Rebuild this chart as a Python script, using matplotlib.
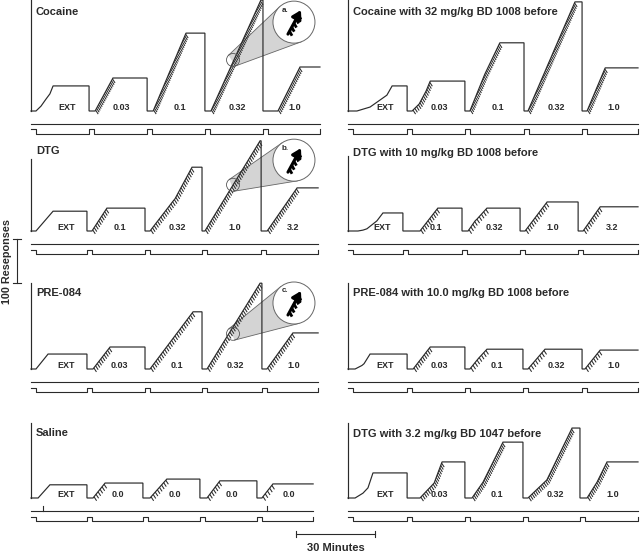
import numpy as np
import matplotlib

matplotlib.use("Agg")
import matplotlib.pyplot as plt
from matplotlib.collections import LineCollection
from matplotlib.patches import Ellipse, Polygon

plt.rcParams["font.family"] = ["Liberation Sans", "DejaVu Sans"]

# recorder scale: 30 min and 100 responses bars
PX_PER_MIN = 2.627
PX_PER_RESP = 0.44
INK = "#2a2a2a"

DOSES_COC = ["EXT", "0.03", "0.1", "0.32", "1.0"]
DOSES_DTG = ["EXT", "0.1", "0.32", "1.0", "3.2"]
DOSES_SAL = ["EXT", "0.0", "0.0", "0.0", "0.0"]

# component boundaries (min from session start)
COC_BOUNDS = [0, 22.1, 44.2, 66.2, 88.3, 110.0]
COC_BD_BOUNDS = [0, 22.5, 44.5, 67.0, 89.1, 110.4]
DTG_BOUNDS = [0, 21.3, 43.4, 65.1, 87.6, 109.3]
DTG_BD_BOUNDS = [0, 20.9, 43.4, 65.5, 87.6, 110.4]
PRE_BOUNDS = [0, 21.3, 43.4, 65.1, 87.9, 109.3]
PRE_BD_BOUNDS = [0, 22.5, 44.5, 66.6, 89.1, 110.4]
SAL_BOUNDS = [0, 21.3, 42.6, 64.3, 86.0, 107.4]
DTG_1047_BOUNDS = [0, 22.5, 44.5, 66.6, 88.3, 110.4]

# cumulative responses within each component: (min from component start, responses)
COC_RAMPS = [
    [(1.9, 0), (3.8, 11), (5.7, 27), (7.2, 39), (8.4, 57)],
    [(2.3, 0), (9.1, 75)],
    [(2.3, 0), (14.8, 177)],
    [(2.3, 0), (21.3, 252)],
    [(5.7, 0), (14.1, 100)],
]
COC_BD_RAMPS = [
    [(3.4, 0), (8.4, 9), (12.2, 25), (14.8, 36), (16.8, 57)],
    [(1.9, 0), (4.6, 16), (7.2, 45), (8.8, 68)],
    [(1.9, 0), (7.6, 84), (13.3, 155)],
    [(1.5, 0), (19.4, 248)],
    [(1.9, 0), (8.8, 98)],
]
DTG_RAMPS = [
    [(1.9, 0), (8.4, 45)],
    [(1.9, 0), (7.6, 52)],
    [(1.9, 0), (10.7, 68), (11.4, 73), (17.9, 145)],
    [(1.1, 0), (22.1, 205)],
    [(2.3, 0), (13.7, 98)],
]
DTG_BD_RAMPS = [
    [(3.8, 0), (5.7, 2), (7.2, 5), (9.1, 14), (11.0, 23), (13.3, 41)],
    [(6.5, 0), (13.3, 52)],
    [(2.3, 0), (5.0, 23), (5.7, 27), (9.5, 52)],
    [(1.9, 0), (10.3, 66)],
    [(1.9, 0), (8.4, 55)],
]
PRE_RAMPS = [
    [(1.9, 0), (6.5, 34)],
    [(2.3, 0), (8.8, 50)],
    [(1.9, 0), (18.3, 130)],
    [(1.9, 0), (22.1, 195)],
    [(1.9, 0), (11.8, 82)],
]
PRE_BD_RAMPS = [
    [(2.7, 0), (5.3, 8), (6.1, 12), (8.4, 34)],
    [(2.3, 0), (8.8, 50)],
    [(1.9, 0), (4.6, 20), (5.3, 25), (8.4, 45)],
    [(1.9, 0), (8.4, 45)],
    [(1.1, 0), (6.9, 43)],
]
SAL_RAMPS = [
    [(2.7, 0), (7.2, 30)],
    [(2.3, 0), (6.9, 34)],
    [(2.7, 0), (9.1, 43)],
    [(2.7, 0), (7.6, 39)],
    [(1.9, 0), (6.1, 32)],
]
DTG_1047_RAMPS = [
    [(2.7, 0), (5.7, 11), (7.6, 23), (9.5, 57)],
    [(4.9, 0), (10.3, 34), (13.3, 82)],
    [(2.7, 0), (6.9, 36), (14.5, 127)],
    [(1.9, 0), (9.1, 41), (18.7, 159)],
    [(2.7, 0), (6.5, 36), (10.3, 82)],
]

# reinforcer pips on each ramp
COC_PIPS = [0, 18, 40, 58, 22]
COC_BD_PIPS = [0, 14, 33, 55, 21]
DTG_PIPS = [0, 10, 28, 40, 20]
DTG_BD_PIPS = [0, 10, 9, 12, 10]
PRE_PIPS = [0, 10, 25, 36, 16]
PRE_BD_PIPS = [0, 10, 8, 8, 8]
SAL_PIPS = [0, 6, 8, 7, 5]
DTG_1047_PIPS = [0, 17, 28, 36, 17]

SAL_EVENT_MARKS = [4.6, 89.8]

TITLES = [
    "Cocaine", "Cocaine with 32 mg/kg BD 1008 before",
    "DTG", "DTG with 10 mg/kg BD 1008 before",
    "PRE-084", "PRE-084 with 10.0 mg/kg BD 1008 before",
    "Saline", "DTG with 3.2 mg/kg BD 1047 before",
]

ROW_BASE_PX = [111, 231, 369, 498]
COL_X0_PX = [31, 348]
AXIS_TOP_PX = [111, 111, 72, 75, 86, 86, 75, 75]
TITLE_Y_PX = [99, 99, 80, 78, 76, 76, 65, 64]

# magnifier: ring on the ramp (min, resp), big circle centre (min, resp)
ZOOMS = {
    0: ((76.9, 116), (100.1, 202), "a."),
    2: ((76.9, 105), (100.1, 161), "b."),
    4: ((76.9, 80), (100.1, 150), "c."),
}

TIMEOUT_MIN = 2.0
EVENT_OFF_PX = 13
PULSE_OFF_PX = 23
PULSE_H_PX = 4.5


def px(x, y):
    return x / PX_PER_MIN, y / PX_PER_RESP


def draw_record(ax, bounds, ramps, pips, labels):
    xs, ys = [0.0], [0.0]
    for i, pts in enumerate(ramps):
        t0, t1 = bounds[i], bounds[i + 1]
        if i > 0:
            xs += [t0, t0]
            ys += [ys[-1], 0.0]
        for t, r in pts:
            xs.append(t0 + t)
            ys.append(r)
        xs.append(t1)
        ys.append(ys[-1])
        frac = 0.62 if i == 0 else 0.56
        ax.text(t0 + frac * (t1 - t0), 0.8 / PX_PER_RESP, labels[i], ha="center", va="baseline",
                fontsize=6.5, fontweight="bold", color=INK)
        if pips[i]:
            _draw_pips(ax, t0, pts, pips[i])
    ax.plot(xs, ys, color=INK, lw=0.85, clip_on=False, solid_joinstyle="miter")


def _draw_pips(ax, t0, pts, n):
    px_x = np.array([(t0 + t) * PX_PER_MIN for t, _ in pts])
    px_y = np.array([r * PX_PER_RESP for _, r in pts])
    cum = np.concatenate([[0], np.cumsum(np.hypot(np.diff(px_x), np.diff(px_y)))])
    s = cum[-1] * (np.arange(n) + 0.5) / n
    x = np.interp(s, cum, px_x)
    y = np.interp(s, cum, px_y)
    segs = [[px(a, b), px(a + 2.6, b - 4.0)] for a, b in zip(x, y)]
    ax.add_collection(LineCollection(segs, colors=INK, linewidths=0.75, clip_on=False))


def draw_event_pens(ax, bounds, marks=()):
    end = bounds[-1]
    ev = -EVENT_OFF_PX / PX_PER_RESP
    ax.plot([0, end], [ev, ev], color=INK, lw=0.8, clip_on=False)
    for m in marks:
        ax.plot([m, m], [ev, ev + 5 / PX_PER_RESP], color=INK, lw=0.8, clip_on=False)
    lo = -PULSE_OFF_PX / PX_PER_RESP
    hi = (-PULSE_OFF_PX + PULSE_H_PX) / PX_PER_RESP
    xs, ys = [0, TIMEOUT_MIN, TIMEOUT_MIN], [hi, hi, lo]
    for b in bounds[1:-1]:
        xs += [b, b, b + TIMEOUT_MIN, b + TIMEOUT_MIN]
        ys += [lo, hi, hi, lo]
    xs += [end, end]
    ys += [lo, hi]
    ax.plot(xs, ys, color=INK, lw=0.8, clip_on=False)


def draw_magnifier(ax, at, centre, tag):
    r1, r2 = 6.5, 21.0
    s = np.array([at[0] * PX_PER_MIN, at[1] * PX_PER_RESP])
    b = np.array([centre[0] * PX_PER_MIN, centre[1] * PX_PER_RESP])
    d = np.hypot(*(b - s))
    ang = np.arctan2(*(b - s)[::-1])
    off = np.arccos((r1 - r2) / d)
    corners = []
    for phi in (ang + off, ang - off):
        u = np.array([np.cos(phi), np.sin(phi)])
        corners.append((s + r1 * u, b + r2 * u))
    poly = [px(*corners[0][0]), px(*corners[0][1]), px(*corners[1][1]), px(*corners[1][0])]
    ax.add_patch(Polygon(poly, closed=True, facecolor="#d4d4d4", edgecolor="none", zorder=0.5, clip_on=False))
    for p, q in corners:
        ax.plot(*zip(px(*p), px(*q)), color="#666666", lw=0.6, zorder=0.6, clip_on=False)
    ax.add_patch(Ellipse(px(*s), 2 * r1 / PX_PER_MIN, 2 * r1 / PX_PER_RESP, facecolor="none",
                         edgecolor="#555555", lw=0.6, zorder=3, clip_on=False))
    ax.add_patch(Ellipse(px(*b), 2 * r2 / PX_PER_MIN, 2 * r2 / PX_PER_RESP, facecolor="white",
                         edgecolor="#666666", lw=0.7, zorder=3, clip_on=False))
    # enlarged piece of the record inside the circle
    p0 = b + np.array([-6.0, -12.0])
    p1 = b + np.array([7.0, 12.0])
    ax.annotate("", xy=px(*p1), xytext=px(*p0), zorder=4,
                arrowprops=dict(arrowstyle="-|>,head_length=0.5,head_width=0.3", color="black", lw=2.2,
                                shrinkA=0, shrinkB=0), annotation_clip=False)
    for k in range(5):
        f = 0.12 + 0.17 * k
        q = p0 + f * (p1 - p0)
        ax.plot(*zip(px(*q), px(*(q + np.array([2.5, -4.5])))), color="black", lw=2.0,
                solid_capstyle="butt", zorder=4, clip_on=False)
    ax.text(*px(*(b + np.array([-9.0, 12.0]))), tag, fontsize=5.8, fontweight="bold", ha="center",
            va="center", color=INK, zorder=5)


PANELS = [
    (COC_BOUNDS, COC_RAMPS, COC_PIPS, DOSES_COC),
    (COC_BD_BOUNDS, COC_BD_RAMPS, COC_BD_PIPS, DOSES_COC),
    (DTG_BOUNDS, DTG_RAMPS, DTG_PIPS, DOSES_DTG),
    (DTG_BD_BOUNDS, DTG_BD_RAMPS, DTG_BD_PIPS, DOSES_DTG),
    (PRE_BOUNDS, PRE_RAMPS, PRE_PIPS, DOSES_COC),
    (PRE_BD_BOUNDS, PRE_BD_RAMPS, PRE_BD_PIPS, DOSES_COC),
    (SAL_BOUNDS, SAL_RAMPS, SAL_PIPS, DOSES_SAL),
    (DTG_1047_BOUNDS, DTG_1047_RAMPS, DTG_1047_PIPS, DOSES_COC),
]

fig = plt.figure(figsize=(6.4, 5.52), dpi=100)
axes = []
for idx, (bounds, ramps, pips, labels) in enumerate(PANELS):
    row, col = divmod(idx, 2)
    base = ROW_BASE_PX[row]
    top, bot = base - 115, base + 45
    ax = fig.add_axes([COL_X0_PX[col] / 640, 1 - bot / 552, 292 / 640, (bot - top) / 552])
    ax.set_xlim(0, 292 / PX_PER_MIN)
    ax.set_ylim(-45 / PX_PER_RESP, 115 / PX_PER_RESP)
    ax.axis("off")
    axes.append(ax)

    ax.plot([0, 0], [0, AXIS_TOP_PX[idx] / PX_PER_RESP], color=INK, lw=0.85, clip_on=False)
    draw_record(ax, bounds, ramps, pips, labels)
    draw_event_pens(ax, bounds, SAL_EVENT_MARKS if idx == 6 else ())
    ax.text(*px(5, TITLE_Y_PX[idx]), TITLES[idx], fontsize=8, fontweight="bold", ha="left",
            va="center", color=INK)
    if idx in ZOOMS:
        draw_magnifier(ax, *ZOOMS[idx])

# 100 responses bar, drawn in PRE-084 axes units
ax = axes[4]
bar_x = -14 / PX_PER_MIN
y0, y1 = 195, 295
ax.plot([bar_x, bar_x], [y0, y1], color=INK, lw=0.8, clip_on=False)
for yy in (y0, y1):
    ax.plot([bar_x - 4 / PX_PER_MIN, bar_x + 4 / PX_PER_MIN], [yy, yy], color=INK, lw=0.8, clip_on=False)
ax.text(-24 / PX_PER_MIN, (y0 + y1) / 2, "100 Reseponses", rotation=90, ha="center", va="center",
        fontsize=7.8, fontweight="bold", color=INK)

# 30 minutes bar, drawn in Saline axes units
ax = axes[6]
x0 = 100.9
bar_y = -36 / PX_PER_RESP
ax.plot([x0, x0 + 30], [bar_y, bar_y], color=INK, lw=0.8, clip_on=False)
for xx in (x0, x0 + 30):
    ax.plot([xx, xx], [bar_y - 3 / PX_PER_RESP, bar_y + 3 / PX_PER_RESP], color=INK, lw=0.8, clip_on=False)
ax.text(x0 + 15, -50 / PX_PER_RESP, "30 Minutes", ha="center", va="center", fontsize=8,
        fontweight="bold", color=INK)

fig.savefig("out.png", dpi=100)
